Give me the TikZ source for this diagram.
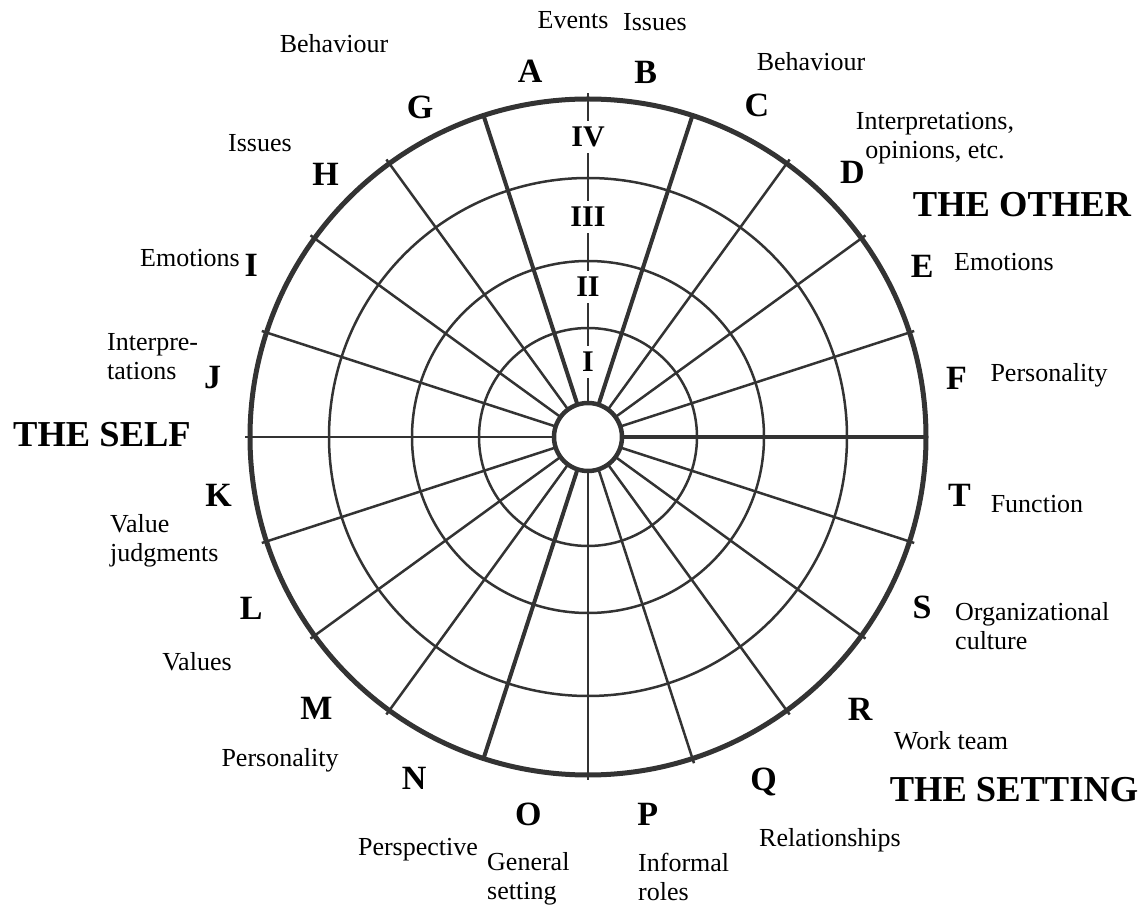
\documentclass[tikz,border=0pt]{standalone}
\usepackage{fontspec}
\setmainfont{Liberation Serif}
\usepackage{xcolor}
\usepackage{tikz}
\usetikzlibrary{positioning}
\definecolor{ink}{HTML}{333333}

\begin{document}
\begin{tikzpicture}[
  x=1pt, y=1pt,
  grid/.style={draw=ink, line width=2.5pt},
  heavy/.style={draw=ink, line width=4pt},
  rim/.style={draw=ink, line width=5pt},
  seg/.style={font=\fontsize{34}{36}\selectfont\bfseries, inner sep=0pt},
  ring/.style={font=\fontsize{30}{32}\selectfont\bfseries, fill=white, inner sep=6pt},
  lbl/.style={font=\fontsize{26}{29}\selectfont, inner sep=0pt},
  lblw/.style={lbl, anchor=west, align=left},
  zone/.style={font=\fontsize{36.5}{40}\selectfont\bfseries, inner sep=0pt}
]
  \useasboundingbox (-588,-472) rectangle (554,437);
  % rings and spokes
  \foreach \r in {109,176,259}
    \draw[grid] (0,0) circle (\r);
  \foreach \a in {18,36,54,126,144,162,180,198,216,234,270,288,306,324,342}
    \draw[grid] (\a:34) -- (\a:343);
  \foreach \a in {0,72,108,252}
    \draw[heavy] (\a:34) -- (\a:340);
  \draw[grid] (90:34) -- (90:344);
  \draw[rim] (0,0) circle (338);
  \draw[heavy, line width=4.5pt, fill=white] (0,0) circle (34);
  % ring numbers
  \foreach \r/\n in {75/I,150/II,220/III,300/IV}
    \node[ring] (ring\n) at (90:\r) {\n};
  % segment letters
  \foreach \s/\r [count=\i from 0] in {A/370,G/370,H/371,I/378,J/380,K/374,L/378,
      M/384,N/383,O/382,P/382,Q/387,R/385,S/375,T/376,F/373,E/375,D/374,C/372,B/369}
    \node[seg] (seg\s) at ({99+18*\i}:\r) {\s};
  % labels
  \foreach \nm/\x/\y/\txt in {
    evA/-15/417/Events,
    issB/67/415/Issues,
    behG/-254/393/Behaviour,
    behC/223/375/Behaviour,
    emoE/416/175/Emotions,
    perF/461/62/Personality,
    funT/449/-67/Function,
    wrkR/363/-304/Work team,
    relQ/242/-403/Relationships,
    prsN/-170/-413/Perspective,
    perM/-308/-323/Personality,
    valL/-391/-225/Values,
    emoI/-398/179/Emotions,
    issH/-328/294/Issues}
    \node[lbl] (\nm) at (\x,\y) {\txt};
  \node[lbl, align=center] (intD) at (347,299) {Interpretations,\\opinions, etc.};
  \node[lblw] (orgS) at (367,-189) {Organizational\\culture};
  \node[lblw] (infP) at (50,-440) {Informal\\roles};
  \node[lblw] (genO) at (-101,-442) {General\\setting};
  \node[lblw] (vjK) at (-478,-104) {Value\\judgments};
  \node[lblw] (intJ) at (-481,80) {Interpre-\\tations};
  % zones
  \node[zone] (self) at (-486,2) {THE SELF};
  \node[zone] (other) at (434,232) {THE OTHER};
  \node[zone] (setting) at (426,-353) {THE SETTING};
\end{tikzpicture}
\end{document}
